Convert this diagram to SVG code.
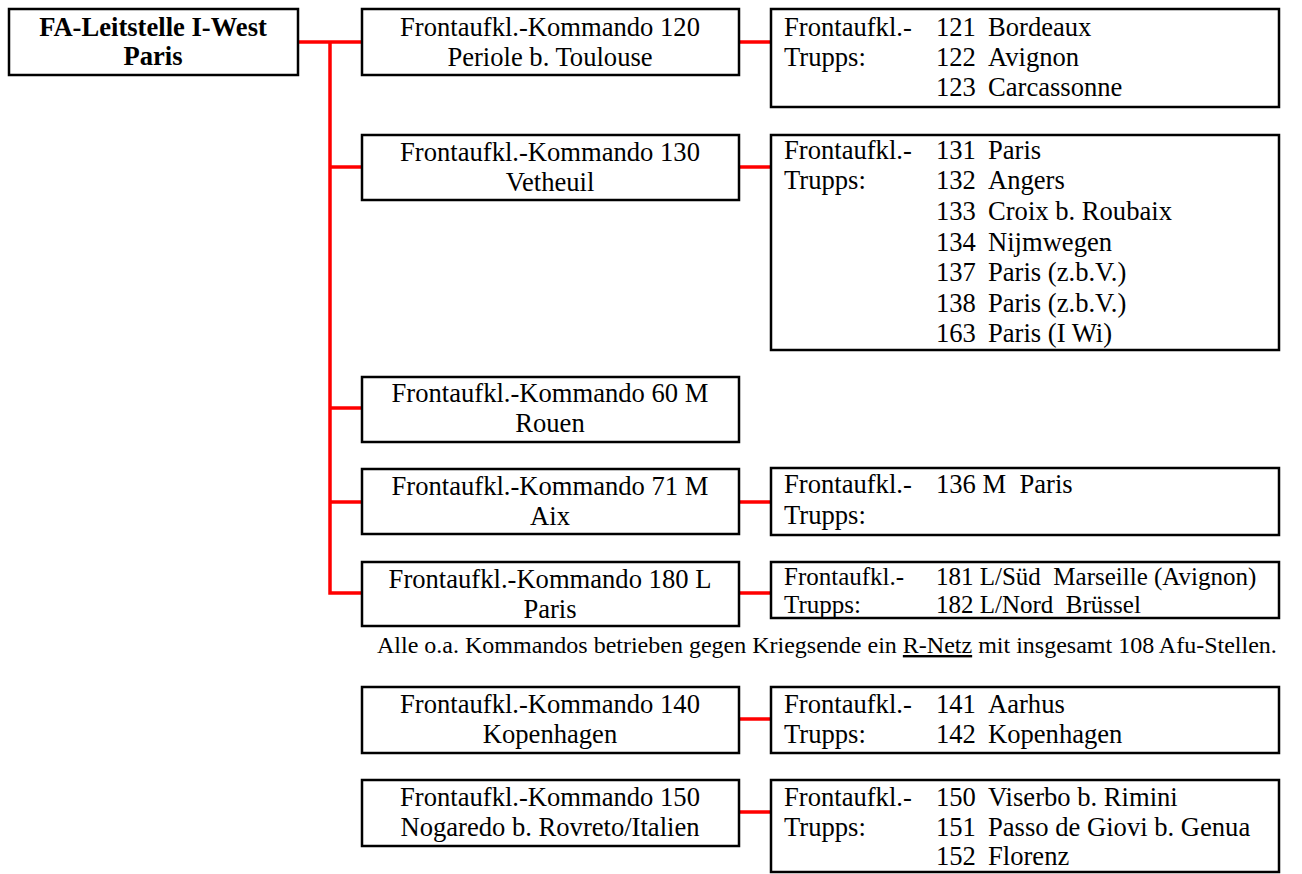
<svg xmlns="http://www.w3.org/2000/svg" width="1302" height="874" viewBox="0 0 1302 874">
<style>
.box{fill:#fff;stroke:#000;stroke-width:2.5}
.t{font-family:"Liberation Serif","Times New Roman",serif;font-size:26.6px;fill:#000}
.s{font-size:25px}
.c{text-anchor:middle}
.b{font-weight:bold}
.con{fill:none;stroke:#ff0000;stroke-width:3.5}
.note{font-family:"Liberation Serif","Times New Roman",serif;font-size:24px;fill:#000}
</style>
<rect width="1302" height="874" fill="#fff"/>
<g id="connectors">
<path class="con" d="M298,42 H362"/>
<path class="con" d="M330,42 V593 H362"/>
<path class="con" d="M330,167 H362"/>
<path class="con" d="M330,408 H362"/>
<path class="con" d="M330,502 H362"/>
<path class="con" d="M739,42 H771"/>
<path class="con" d="M739,167 H771"/>
<path class="con" d="M739,502 H771"/>
<path class="con" d="M739,593 H771"/>
<path class="con" d="M739,719 H771"/>
<path class="con" d="M739,812 H771"/>
</g>
<g id="root">
<rect class="box" x="9" y="9" width="289" height="66"/>
<text class="t c b" x="153" y="36">FA-Leitstelle I-West</text>
<text class="t c b" x="153" y="65">Paris</text>
</g>
<g id="k120">
<rect class="box" x="362" y="9" width="377" height="66"/>
<text class="t c" x="550" y="36">Frontaufkl.-Kommando 120</text>
<text class="t c" x="550" y="66">Periole b. Toulouse</text>
</g>
<g id="t120">
<rect class="box" x="771" y="9" width="508" height="98"/>
<text class="t" x="784" y="36">Frontaufkl.-</text>
<text class="t" x="784" y="66">Trupps:</text>
<text class="t" x="936" y="36">121<tspan x="988">Bordeaux</tspan></text>
<text class="t" x="936" y="66">122<tspan x="988">Avignon</tspan></text>
<text class="t" x="936" y="96">123<tspan x="988">Carcassonne</tspan></text>
</g>
<g id="k130">
<rect class="box" x="362" y="135" width="377" height="65"/>
<text class="t c" x="550" y="161">Frontaufkl.-Kommando 130</text>
<text class="t c" x="550" y="191">Vetheuil</text>
</g>
<g id="t130">
<rect class="box" x="771" y="135" width="508" height="215"/>
<text class="t" x="784" y="159">Frontaufkl.-</text>
<text class="t" x="784" y="189">Trupps:</text>
<text class="t" x="936" y="159">131<tspan x="988">Paris</tspan></text>
<text class="t" x="936" y="189">132<tspan x="988">Angers</tspan></text>
<text class="t" x="936" y="220">133<tspan x="988">Croix b. Roubaix</tspan></text>
<text class="t" x="936" y="251">134<tspan x="988">Nijmwegen</tspan></text>
<text class="t" x="936" y="281">137<tspan x="988">Paris (z.b.V.)</tspan></text>
<text class="t" x="936" y="312">138<tspan x="988">Paris (z.b.V.)</tspan></text>
<text class="t" x="936" y="342">163<tspan x="988">Paris (I Wi)</tspan></text>
</g>
<g id="k60">
<rect class="box" x="362" y="377" width="377" height="65"/>
<text class="t c" x="550" y="402">Frontaufkl.-Kommando 60 M</text>
<text class="t c" x="550" y="432">Rouen</text>
</g>
<g id="k71">
<rect class="box" x="362" y="469" width="377" height="65"/>
<text class="t c" x="550" y="495">Frontaufkl.-Kommando 71 M</text>
<text class="t c" x="550" y="525">Aix</text>
</g>
<g id="t71">
<rect class="box" x="771" y="468" width="508" height="67"/>
<text class="t" x="784" y="493">Frontaufkl.-</text>
<text class="t" x="784" y="524">Trupps:</text>
<text class="t" x="936" y="493" xml:space="preserve">136 M  Paris</text>
</g>
<g id="k180">
<rect class="box" x="362" y="562" width="377" height="64"/>
<text class="t c" x="550" y="588">Frontaufkl.-Kommando 180 L</text>
<text class="t c" x="550" y="618">Paris</text>
</g>
<g id="t180">
<rect class="box" x="771" y="562" width="508" height="56"/>
<text class="t s" x="784" y="585">Frontaufkl.-</text>
<text class="t s" x="784" y="613">Trupps:</text>
<text class="t s" x="936" y="585" xml:space="preserve">181 L/Süd  Marseille (Avignon)</text>
<text class="t s" x="936" y="613" xml:space="preserve">182 L/Nord  Brüssel</text>
</g>
<g id="note">
<text class="note" x="377" y="653">Alle o.a. Kommandos betrieben gegen Kriegsende ein <tspan text-decoration="underline">R-Netz</tspan> mit insgesamt 108 Afu-Stellen.</text>
</g>
<g id="k140">
<rect class="box" x="362" y="687" width="377" height="66"/>
<text class="t c" x="550" y="713">Frontaufkl.-Kommando 140</text>
<text class="t c" x="550" y="743">Kopenhagen</text>
</g>
<g id="t140">
<rect class="box" x="771" y="687" width="508" height="66"/>
<text class="t" x="784" y="713">Frontaufkl.-</text>
<text class="t" x="784" y="743">Trupps:</text>
<text class="t" x="936" y="713">141<tspan x="988">Aarhus</tspan></text>
<text class="t" x="936" y="743">142<tspan x="988">Kopenhagen</tspan></text>
</g>
<g id="k150">
<rect class="box" x="362" y="780" width="377" height="66"/>
<text class="t c" x="550" y="806">Frontaufkl.-Kommando 150</text>
<text class="t c" x="550" y="836">Nogaredo b. Rovreto/Italien</text>
</g>
<g id="t150">
<rect class="box" x="771" y="780" width="508" height="92"/>
<text class="t" x="784" y="806">Frontaufkl.-</text>
<text class="t" x="784" y="836">Trupps:</text>
<text class="t" x="936" y="806">150<tspan x="988">Viserbo b. Rimini</tspan></text>
<text class="t" x="936" y="836">151<tspan x="988">Passo de Giovi b. Genua</tspan></text>
<text class="t" x="936" y="865">152<tspan x="988">Florenz</tspan></text>
</g>
</svg>
